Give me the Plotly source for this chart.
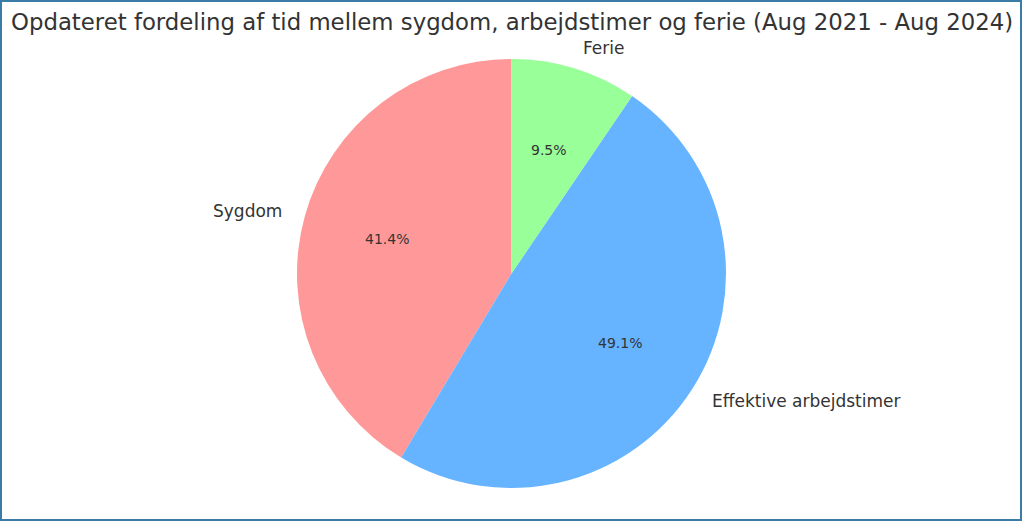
import math
import plotly.graph_objects as go

# Data
labels = ["Sygdom", "Effektive arbejdstimer", "Ferie"]
values = [41.4, 49.1, 9.5]
colors = ["#ff9999", "#66b3ff", "#99ff99"]
title = "Opdateret fordeling af tid mellem sygdom, arbejdstimer og ferie (Aug 2021 - Aug 2024)"

# Layout constants (pixels)
W, H = 1023, 522
CX, CY, R = 511.5, 273.5, 214.5
TEXT = "#333333"
FONT = "DejaVu Sans"

total = sum(values)

fig = go.Figure()
fig.add_trace(go.Pie(
    labels=labels, values=values, sort=False, direction="counterclockwise",
    # plotly puts the first counterclockwise slice right of 12 o'clock; shift it
    rotation=-360.0 * values[0] / total,
    marker=dict(colors=colors, line=dict(width=0)),
    textinfo="none", hoverinfo="label+percent", showlegend=False,
    domain=dict(x=[(CX - R) / W, (CX + R) / W],
                y=[(H - CY - R) / H, (H - CY + R) / H]),
))

# Labels outside (1.1 r) and percentages inside (0.6 r), like a classic pie
start = 90.0
annotations = []
for lab, v in zip(labels, values):
    sweep = 360.0 * v / total
    mid = math.radians(start + sweep / 2)
    start += sweep
    c, s = math.cos(mid), math.sin(mid)
    annotations.append(dict(
        x=(CX + 0.6 * R * c) / W, y=(H - CY + 0.6 * R * s) / H,
        xref="paper", yref="paper", text=f"{100 * v / total:.1f}%",
        showarrow=False, xanchor="center", yanchor="middle",
        font=dict(family=FONT, size=14, color=TEXT)))
    annotations.append(dict(
        x=(CX + 1.1 * R * c) / W, y=(H - CY + 1.1 * R * s) / H,
        xref="paper", yref="paper", text=lab, showarrow=False,
        xanchor="left" if c >= 0 else "right", yanchor="middle",
        font=dict(family=FONT, size=17, color=TEXT)))

annotations.append(dict(
    x=0.5, y=(H - 22) / H, xref="paper", yref="paper", text=title,
    showarrow=False, xanchor="center", yanchor="middle",
    font=dict(family=FONT, size=22.8, color=TEXT)))

fig.update_layout(
    width=W, height=H, autosize=False,
    margin=dict(l=0, r=0, t=0, b=0),
    paper_bgcolor="white", plot_bgcolor="white",
    annotations=annotations,
    shapes=[dict(type="rect", xref="paper", yref="paper",
                 x0=1 / W, x1=(W - 2) / W, y0=2 / H, y1=(H - 1) / H,
                 line=dict(color="#3a7ca5", width=2))],
)

fig.write_html("out.html", config={"displayModeBar": False},
               post_script="document.body.style.margin='0';")
